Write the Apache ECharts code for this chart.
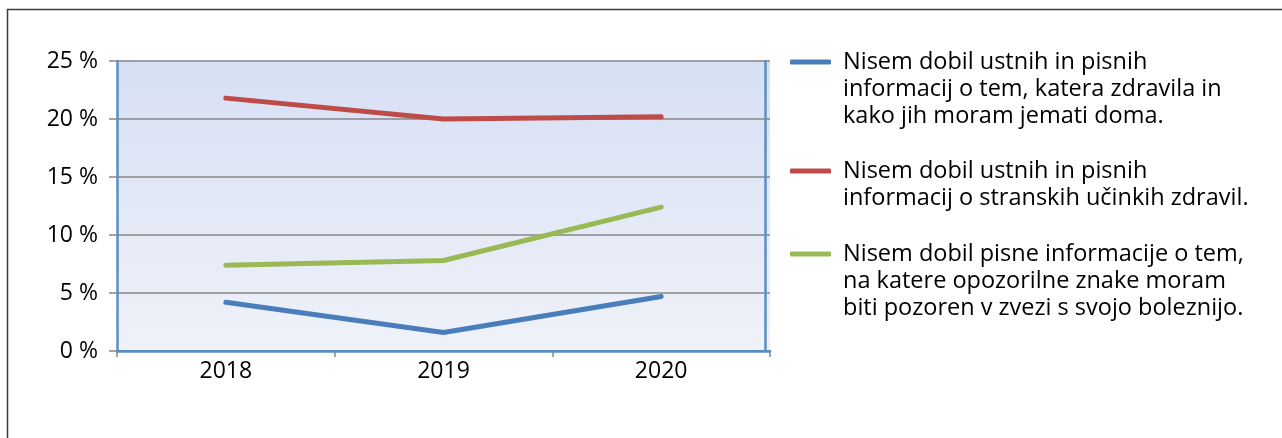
<!DOCTYPE html>
<html>
<head>
<meta charset="utf-8">
<script src="https://cdn.jsdelivr.net/npm/echarts@6/dist/echarts.min.js"></script>
<style>
  html, body { margin: 0; padding: 0; background: #ffffff; }
  #chart { width: 1282px; height: 438px; }
</style>
</head>
<body>
<div id="chart"></div>
<script>
// Years on the category axis
const years = ['2018', '2019', '2020'];

// Share of respondents (%) per statement
const seriesNames = [
  'Nisem dobil ustnih in pisnih\ninformacij o tem, katera zdravila in\nkako jih moram jemati doma.',
  'Nisem dobil ustnih in pisnih\ninformacij o stranskih učinkih zdravil.',
  'Nisem dobil pisne informacije o tem,\nna katere opozorilne znake moram\nbiti pozoren v zvezi s svojo boleznijo.'
];
const medicationUse = [4.2, 1.6, 4.7];
const sideEffects = [21.8, 20.0, 20.2];
const warningSigns = [7.4, 7.8, 12.4];

// Value axis range and step
const yMin = 0;
const yMax = 25;
const yStep = 5;

const seriesColors = ['#4a7ebb', '#be4b48', '#98b954'];
const seriesValues = [medicationUse, sideEffects, warningSigns];

const FONT = '"Open Sans"';
const LINE_H = 27;
const legendIconY = [62, 171, 254];

function lineCount(s) { return s.split('\n').length; }

const chart = echarts.init(document.getElementById('chart'), null, { renderer: 'canvas' });

// One legend per series; blank lines are prepended so that the first
// text line sits level with the icon (legend text is centred on the icon).
const legends = seriesNames.map((name, i) => {
  const n = lineCount(name);
  return {
    data: [name],
    left: 790,
    top: legendIconY[i] - (2 * n - 1) * LINE_H / 2,
    padding: 0,
    icon: 'roundRect',
    itemWidth: 41,
    itemHeight: 5,
    selectedMode: false,
    formatter: (label) => '\n'.repeat(n - 1) + label,
    textStyle: {
      fontFamily: FONT,
      fontSize: 23.5,
      lineHeight: LINE_H,
      color: '#000000',
      padding: [0, 0, 0, 7]
    }
  };
});

chart.setOption({
  animation: false,
  textStyle: { fontFamily: FONT },
  graphic: [{
    type: 'polyline',
    silent: true,
    shape: { points: [[7.5, 438], [7.5, 9.5], [1282, 9.5]] },
    style: { stroke: '#3c3c3c', lineWidth: 1.5, fill: null }
  }],
  grid: {
    left: 117,
    right: 512,
    top: 61,
    bottom: 87,
    show: true,
    borderWidth: 0,
    backgroundColor: new echarts.graphic.LinearGradient(0, 0, 0, 1, [
      { offset: 0, color: '#d7dff4' },
      { offset: 1, color: '#eff2f9' }
    ])
  },
  legend: legends,
  xAxis: [{
    type: 'category',
    data: years,
    boundaryGap: true,
    axisLine: { lineStyle: { color: '#5b8fc4', width: 2.5 } },
    axisTick: { show: true, length: 6, lineStyle: { color: '#868686', width: 1.5 } },
    axisLabel: { color: '#000000', fontSize: 23, fontFamily: FONT, margin: 9 },
    splitLine: { show: false }
  }, {
    type: 'category',
    data: years,
    position: 'top',
    offset: 1,
    axisLine: { lineStyle: { color: '#5b8fc4', width: 2 } },
    axisTick: { show: false },
    axisLabel: { show: false },
    splitLine: { show: false }
  }],
  yAxis: [{
    type: 'value',
    min: yMin,
    max: yMax,
    interval: yStep,
    axisLine: { show: true, lineStyle: { color: '#5b8fc4', width: 2.5 } },
    axisTick: { show: true, length: 8, lineStyle: { color: '#868686', width: 1.5 } },
    axisLabel: { color: '#000000', fontSize: 23, fontFamily: FONT, margin: 19, formatter: '{value} %' },
    splitLine: { show: true, lineStyle: { color: '#868686', width: 1.5 } }
  }, {
    type: 'value',
    position: 'right',
    offset: -5,
    min: yMin,
    max: yMax,
    interval: yStep,
    axisLine: { show: true, lineStyle: { color: '#5b8fc4', width: 2.5 } },
    axisTick: { show: false },
    axisLabel: { show: false },
    splitLine: { show: false }
  }],
  series: seriesNames.map((name, i) => ({
    name: name,
    type: 'line',
    data: seriesValues[i],
    xAxisIndex: 0,
    yAxisIndex: 0,
    symbol: 'none',
    color: seriesColors[i],
    lineStyle: { width: 5, color: seriesColors[i], cap: 'round', join: 'round' },
    z: 3
  }))
});
</script>
</body>
</html>
